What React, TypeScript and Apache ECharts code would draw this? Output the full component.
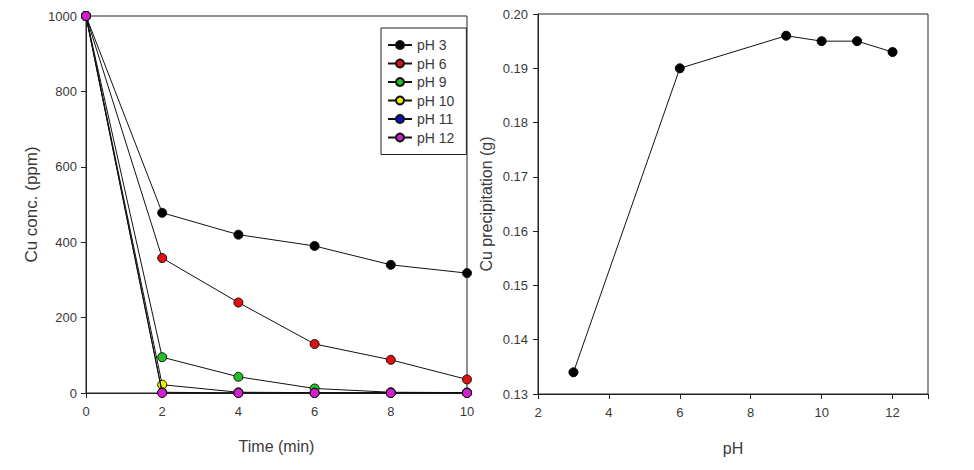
import React, { useEffect, useRef } from "react";
import * as echarts from "echarts";

const times = [0, 2, 4, 6, 8, 10];
const seriesNames = ["pH 3", "pH 6", "pH 9", "pH 10", "pH 11", "pH 12"];
const markerColors = ["#000000", "#e01010", "#20c020", "#f0f000", "#0010e0", "#d020d0"];
const pH3 = [1000, 478, 420, 390, 340, 318];
const pH6 = [1000, 358, 240, 130, 88, 36];
const pH9 = [1000, 95, 43, 12, 2, 1];
const pH10 = [1000, 22, 2, 1, 1, 1];
const pH11 = [1000, 2, 0, 0, 0, 0];
const pH12 = [1000, 0, 0, 0, 0, 0];
const leftValues = [pH3, pH6, pH9, pH10, pH11, pH12];

const phValues = [3, 6, 9, 10, 11, 12];
const precipitation = [0.134, 0.19, 0.196, 0.195, 0.195, 0.193];

const narrow = "'Liberation Sans Narrow', 'Arial Narrow', 'Liberation Sans', sans-serif";
const sans = "'Liberation Sans', Arial, sans-serif";
const textColor = "#3a3a3a";

export default function App() {
  const ref = useRef<HTMLDivElement>(null);
  useEffect(() => {
    document.body.style.margin = "0";
    const chart = echarts.init(ref.current!, null, { renderer: "svg" });
    const axisCommon = {
      axisLine: { show: true, lineStyle: { color: "#222", width: 1 } },
      axisTick: { show: true, inside: false, length: 5, lineStyle: { color: "#222" } },
      splitLine: { show: false },
      axisLabel: { color: textColor, fontFamily: narrow, fontSize: 13 },
      nameTextStyle: { color: textColor, fontFamily: sans, fontSize: 16 },
    };
    const leftSeries = leftValues.map((vals, i) => ({
      type: "line",
      name: seriesNames[i],
      xAxisIndex: 0,
      yAxisIndex: 0,
      data: times.map((t, j) => [t, vals[j]]),
      symbol: "circle",
      symbolSize: 9,
      lineStyle: { color: "#111", width: 1 },
      itemStyle: { color: markerColors[i], borderColor: "#111", borderWidth: 1 },
      z: 2 + i,
    }));
    chart.setOption({
      animation: false,
      backgroundColor: "#fff",
      grid: [
        { left: 86, top: 16, width: 381, height: 377, show: true, borderColor: "#222", borderWidth: 1 },
        { left: 538, top: 14, width: 390, height: 380, show: true, borderColor: "#222", borderWidth: 1 },
      ],
      legend: {
        data: seriesNames,
        orient: "vertical",
        left: 381,
        top: 28,
        width: 75,
        borderColor: "#222",
        borderWidth: 1,
        padding: [10, 12, 10, 6],
        itemWidth: 24,
        itemHeight: 10,
        itemGap: 4.5,
        textStyle: { color: textColor, fontFamily: narrow, fontSize: 14 },
      },
      xAxis: [
        {
          ...axisCommon,
          type: "value",
          gridIndex: 0,
          min: 0,
          max: 10,
          interval: 2,
          name: "Time (min)",
          nameLocation: "middle",
          nameGap: 45,
          axisLabel: { ...axisCommon.axisLabel, margin: 12 },
          nameTextStyle: { ...axisCommon.nameTextStyle, fontFamily: narrow, verticalAlign: "top" },
        },
        {
          ...axisCommon,
          type: "value",
          gridIndex: 1,
          min: 2,
          max: 13,
          interval: 2,
          name: "pH",
          nameLocation: "middle",
          nameGap: 46,
          axisLabel: {
            ...axisCommon.axisLabel,
            margin: 12,
            formatter: (v: number) => (v === 13 ? "" : String(v)),
          },
          nameTextStyle: { ...axisCommon.nameTextStyle, verticalAlign: "top" },
        },
      ],
      yAxis: [
        {
          ...axisCommon,
          type: "value",
          gridIndex: 0,
          min: 0,
          max: 1000,
          interval: 200,
          name: "Cu conc. (ppm)",
          nameLocation: "middle",
          nameGap: 46,
          axisLabel: { ...axisCommon.axisLabel, margin: 9, formatter: (v: number) => String(v) },
          nameTextStyle: { ...axisCommon.nameTextStyle, fontSize: 17 },
        },
        {
          ...axisCommon,
          type: "value",
          gridIndex: 1,
          min: 0.13,
          max: 0.2,
          interval: 0.01,
          name: "Cu precipitation (g)",
          nameLocation: "middle",
          nameGap: 44,
          axisLabel: { ...axisCommon.axisLabel, margin: 10, formatter: (v: number) => v.toFixed(2) },
        },
      ],
      series: [
        ...leftSeries,
        {
          type: "line",
          name: "Cu precipitation",
          xAxisIndex: 1,
          yAxisIndex: 1,
          data: phValues.map((p, i) => [p, precipitation[i]]),
          symbol: "circle",
          symbolSize: 9,
          lineStyle: { color: "#111", width: 1 },
          itemStyle: { color: "#000", borderColor: "#000", borderWidth: 1 },
        },
      ],
    });
    return () => chart.dispose();
  }, []);
  return <div ref={ref} style={{ width: 974, height: 470 }} />;
}
